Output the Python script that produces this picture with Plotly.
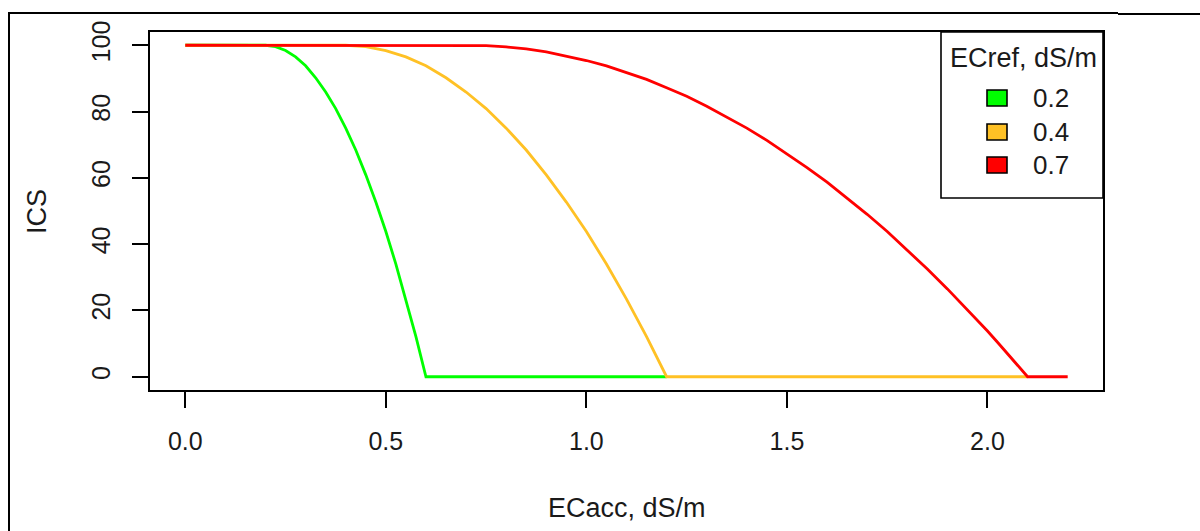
import plotly.graph_objects as go

# ---- data ----
ecref_labels = ["0.2", "0.4", "0.7"]
colors = ["#00FF00", "#FFC125", "#FF0000"]

green_x = [0.0, 0.2, 0.225, 0.25, 0.275, 0.3, 0.325, 0.35, 0.375, 0.4, 0.425, 0.45,
           0.475, 0.5, 0.525, 0.55, 0.575, 0.6, 1.2]
green_y = [100, 100, 99.6, 98.4, 96.5, 93.8, 90.2, 85.9, 80.9, 75.0, 68.4, 60.9,
           52.7, 43.8, 34.0, 23.4, 12.1, 0, 0]

orange_x = [0.0, 0.4, 0.45, 0.5, 0.55, 0.6, 0.65, 0.7, 0.75, 0.8, 0.85, 0.9,
            0.95, 1.0, 1.05, 1.1, 1.15, 1.2, 2.1]
orange_y = [100, 100, 99.6, 98.4, 96.5, 93.8, 90.2, 85.9, 80.9, 75.0, 68.4, 60.9,
            52.7, 43.8, 34.0, 23.4, 12.1, 0, 0]

red_x = [0.0, 0.7, 0.75, 0.8, 0.85, 0.9, 0.95, 1.0, 1.05, 1.1, 1.15, 1.2, 1.25, 1.3,
         1.35, 1.4, 1.45, 1.5, 1.55, 1.6, 1.65, 1.7, 1.75, 1.8, 1.85, 1.9, 1.925, 1.95,
         1.975, 2.0, 2.025, 2.05, 2.075, 2.1, 2.2]
red_y = [100, 100, 99.9, 99.5, 98.9, 98.0, 96.8, 95.4, 93.8, 91.8, 89.7, 87.2, 84.6, 81.6,
         78.4, 75.0, 71.3, 67.3, 63.1, 58.7, 53.9, 49.0, 43.8, 38.3, 32.5, 26.5, 23.4, 20.3,
         17.1, 13.8, 10.4, 7.0, 3.6, 0, 0]

x_ticks = [0.0, 0.5, 1.0, 1.5, 2.0]
x_tick_text = ["0.0", "0.5", "1.0", "1.5", "2.0"]
y_ticks = [0, 20, 40, 60, 80, 100]
y_tick_text = ["0", "20", "40", "60", "80", "100"]

x_title = "ECacc, dS/m"
y_title = "ICS"
legend_title = "ECref, dS/m"

# ---- layout geometry (pixels) ----
W, H = 1200, 531
L, R, T, B = 150, 1103, 32, 390
pw, ph = R - L, B - T


def px(x):
    return (x - L) / pw


def py(y):
    return (B - y) / ph


FONT = "Liberation Sans, Arial, sans-serif"
TXT = "#1a1a1a"

fig = go.Figure()
series = [(green_x, green_y), (orange_x, orange_y), (red_x, red_y)]
for (xs, ys), col, lab in zip(series, colors, ecref_labels):
    fig.add_trace(go.Scatter(x=xs, y=ys, mode="lines", name=lab,
                             line=dict(color=col, width=2.8), showlegend=False))

axis_common = dict(showline=True, linecolor="black", linewidth=1.6, mirror=True,
                   ticks="outside", ticklen=16, tickwidth=1.6, tickcolor="black",
                   showgrid=False, zeroline=False,
                   tickfont=dict(family=FONT, size=25, color=TXT))

fig.update_xaxes(range=[-0.088, 2.288], tickvals=x_ticks, ticktext=x_tick_text,
                 ticklabelstandoff=12, **axis_common)
fig.update_yaxes(range=[-4, 104], tickvals=y_ticks, ticktext=y_tick_text,
                 tickangle=-90, ticklabelstandoff=12, **axis_common)

shapes = []
# outer frame lines
shapes.append(dict(type="line", xref="paper", yref="paper",
                   x0=px(8), x1=px(1118), y0=py(13), y1=py(13),
                   line=dict(color="black", width=2)))
shapes.append(dict(type="line", xref="paper", yref="paper",
                   x0=px(1118), x1=px(1200), y0=py(14), y1=py(14),
                   line=dict(color="black", width=2)))
shapes.append(dict(type="line", xref="paper", yref="paper",
                   x0=px(9), x1=px(9), y0=py(13), y1=py(531),
                   line=dict(color="black", width=2)))
# legend box
shapes.append(dict(type="rect", xref="paper", yref="paper",
                   x0=px(941), x1=px(1103), y0=py(198), y1=py(32),
                   line=dict(color="black", width=1.6), fillcolor="white"))

annotations = [
    dict(text=legend_title, xref="paper", yref="paper", x=px(1023), y=py(58),
         showarrow=False, font=dict(family=FONT, size=27, color=TXT),
         xanchor="center", yanchor="middle"),
    dict(text=x_title, xref="paper", yref="paper", x=px(627), y=py(508),
         showarrow=False, font=dict(family=FONT, size=27, color=TXT),
         xanchor="center", yanchor="middle"),
    dict(text=y_title, xref="paper", yref="paper", x=px(37), y=py(212),
         showarrow=False, textangle=-90, font=dict(family=FONT, size=27, color=TXT),
         xanchor="center", yanchor="middle"),
]
item_y = [98, 132, 165]
for lab, col, yy in zip(ecref_labels, colors, item_y):
    shapes.append(dict(type="rect", xref="paper", yref="paper",
                       x0=px(987), x1=px(1007), y0=py(yy + 8), y1=py(yy - 8),
                       line=dict(color="black", width=1.6), fillcolor=col))
    annotations.append(dict(text=lab, xref="paper", yref="paper", x=px(1031), y=py(yy),
                            showarrow=False, font=dict(family=FONT, size=26, color=TXT),
                            xanchor="left", yanchor="middle"))

fig.update_layout(width=W, height=H, margin=dict(l=L, r=W - R, t=T, b=H - B),
                  paper_bgcolor="white", plot_bgcolor="white",
                  shapes=shapes, annotations=annotations)

fig.write_html("out.html")
